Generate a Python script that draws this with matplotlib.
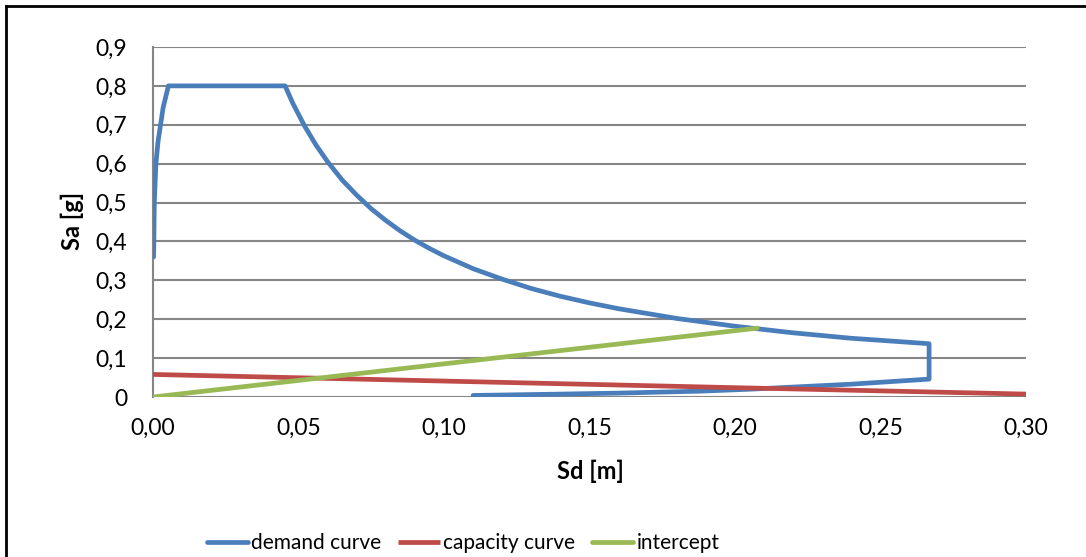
import matplotlib
matplotlib.use("Agg")
import matplotlib.pyplot as plt
from matplotlib.lines import Line2D
from matplotlib.ticker import FuncFormatter

plt.rcParams['font.family'] = ['Lato', 'DejaVu Sans']

# Demand spectrum in ADRS format (Sd [m], Sa [g])
demand_sd = [0.0002, 0.0003, 0.00045, 0.0010, 0.0017, 0.0026, 0.0035, 0.0053,
             0.0454, 0.048, 0.052, 0.056, 0.060, 0.065, 0.070, 0.075, 0.080, 0.085,
             0.090, 0.095, 0.100, 0.110, 0.120, 0.130, 0.140, 0.150, 0.160, 0.180,
             0.200, 0.220, 0.240, 0.2667,
             0.2667, 0.240, 0.205, 0.188, 0.160, 0.136, 0.110]
demand_sa = [0.36, 0.40, 0.50, 0.60, 0.655, 0.70, 0.745, 0.80,
             0.80, 0.756, 0.698, 0.648, 0.605, 0.558, 0.519, 0.484, 0.454, 0.427,
             0.403, 0.382, 0.363, 0.330, 0.303, 0.279, 0.259, 0.242, 0.227, 0.202,
             0.182, 0.165, 0.151, 0.137,
             0.046, 0.033, 0.020, 0.015, 0.010, 0.007, 0.004]

# Capacity curve
capacity_sd = [0.0, 0.10, 0.20, 0.30]
capacity_sa = [0.058, 0.041, 0.024, 0.0075]

# Intercept line through the origin
intercept_sd = [0.0, 0.2076]
intercept_sa = [0.0, 0.177]

x_ticks = [0.00, 0.05, 0.10, 0.15, 0.20, 0.25, 0.30]
y_ticks = [0.0, 0.1, 0.2, 0.3, 0.4, 0.5, 0.6, 0.7, 0.8, 0.9]

BLUE = '#4A7EBB'
RED = '#BE4B48'
GREEN = '#98B954'
GRID = '#868686'

fig = plt.figure(figsize=(10.86, 5.57), dpi=100)
ax = fig.add_axes([153 / 1086, 1 - 397 / 557, (1026 - 153) / 1086, (397 - 47) / 557])

lw = 3.4
ax.plot(demand_sd, demand_sa, color=BLUE, lw=lw, solid_joinstyle='round',
        solid_capstyle='round', label='demand curve', zorder=3)
ax.plot(capacity_sd, capacity_sa, color=RED, lw=lw, solid_capstyle='butt',
        label='capacity curve', zorder=4)
ax.plot(intercept_sd, intercept_sa, color=GREEN, lw=lw, solid_capstyle='round',
        label='intercept', zorder=5)

ax.set_xlim(0, 0.30)
ax.set_ylim(0, 0.9)
ax.set_xticks(x_ticks)
ax.set_yticks(y_ticks)
ax.xaxis.set_major_formatter(FuncFormatter(lambda v, p: f"{v:.2f}".replace('.', ',')))
ax.yaxis.set_major_formatter(FuncFormatter(
    lambda v, p: '0' if abs(v) < 1e-9 else f"{v:.1f}".replace('.', ',')))

ax.grid(axis='y', color=GRID, lw=1.5, zorder=0)
ax.set_axisbelow(True)
for side in ('top', 'right', 'bottom'):
    ax.spines[side].set_visible(False)
ax.spines['left'].set_color(GRID)
ax.spines['left'].set_linewidth(1.5)
ax.tick_params(axis='both', length=0, labelsize=16.5, colors='black')
ax.tick_params(axis='y', pad=18.5)
ax.tick_params(axis='x', pad=15)

fig.text(590 / 1086, 1 - 471 / 557, 'Sd [m]', fontsize=17, fontweight='bold',
         ha='center', va='center')
fig.text(72 / 1086, 1 - 221 / 557, 'Sa [g]', fontsize=17, fontweight='bold',
         ha='center', va='center', rotation=90)

fig.legend(loc='center', bbox_to_anchor=(463 / 1086, 1 - 543 / 557), ncol=3,
           frameon=False, fontsize=15, handlelength=2.0, handletextpad=0.15,
           columnspacing=0.8)

# Chart-area frame
fig.add_artist(Line2D([6 / 1086, 6 / 1086], [0, 1 - 6 / 557], color='black', lw=2,
                      transform=fig.transFigure))
fig.add_artist(Line2D([6 / 1086, 1], [1 - 6 / 557, 1 - 6 / 557], color='black', lw=2,
                      transform=fig.transFigure))

fig.savefig('out.png', dpi=100, facecolor='white')
